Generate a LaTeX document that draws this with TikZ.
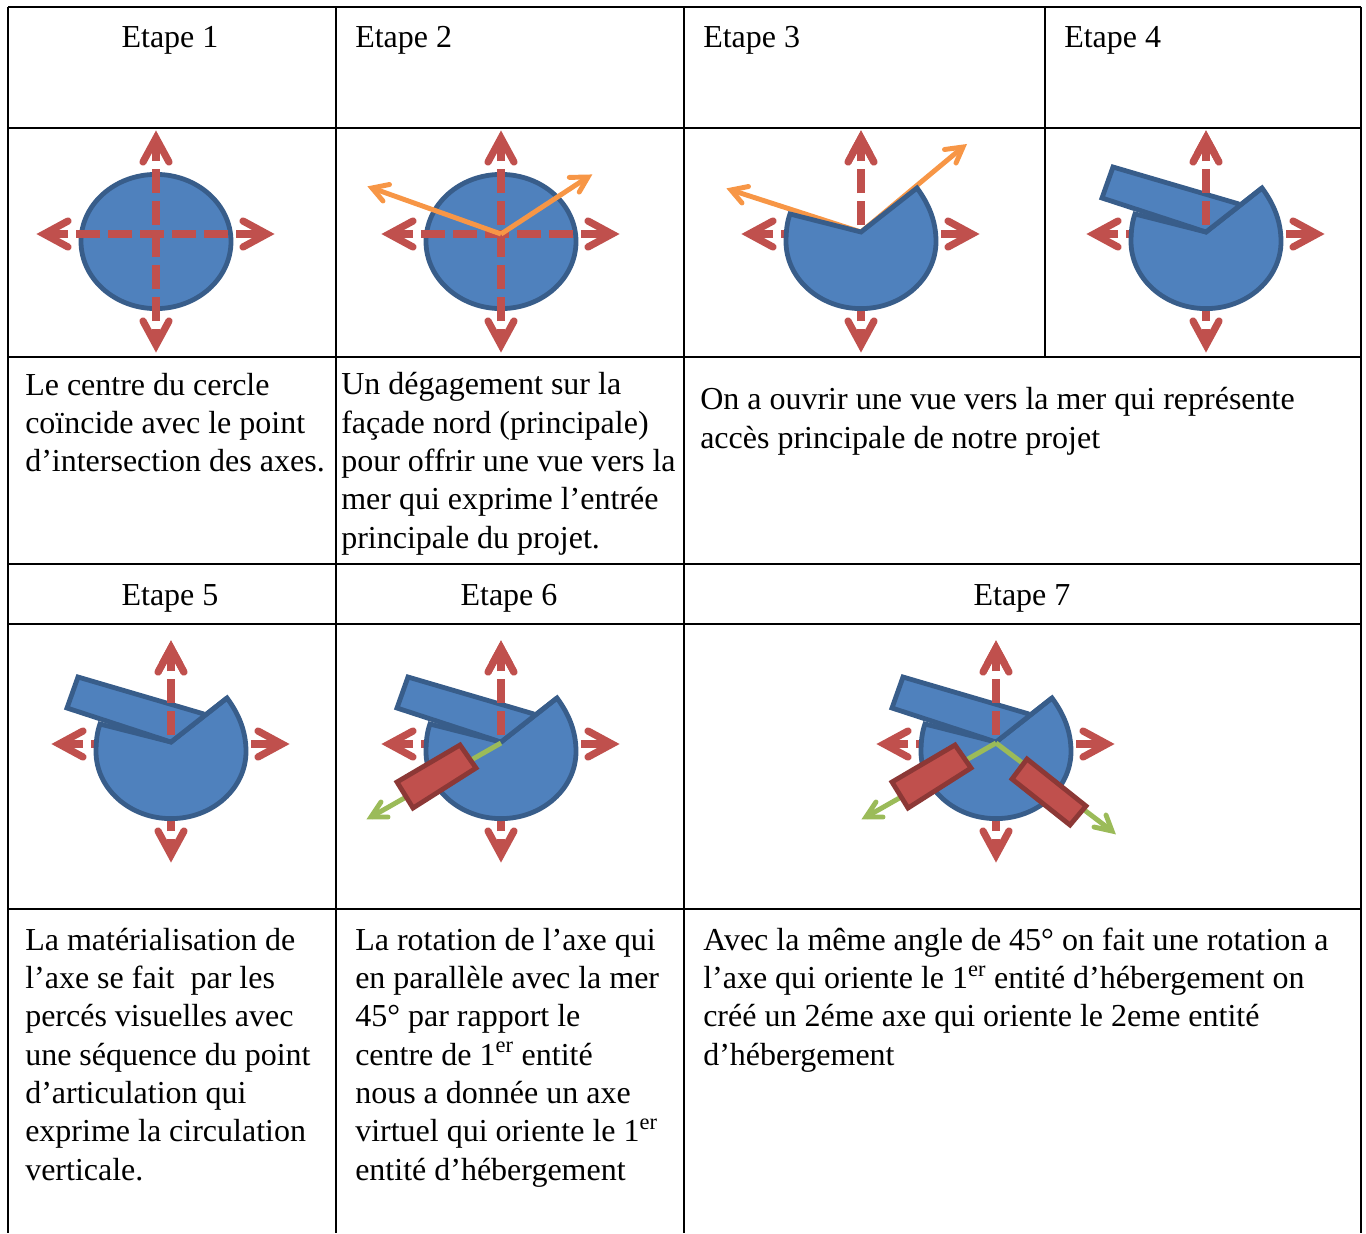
\documentclass[tikz,border=0pt]{standalone}
\usepackage{fontspec}
\setmainfont{Liberation Serif}
\definecolor{axisred}{HTML}{C0504D}
\definecolor{blueF}{HTML}{4F81BD}
\definecolor{blueD}{HTML}{385D8A}
\definecolor{orangeA}{HTML}{F79646}
\definecolor{greenA}{HTML}{9BBB59}
\definecolor{redD}{HTML}{8C3836}
\tikzset{
 gridline/.style={draw=black,line width=1.6pt},
 axisline/.style={draw=axisred,line width=5.4pt,dash pattern=on 18pt off 6pt},
 axishead/.style={draw=axisred,line width=5.4pt,line cap=round,line join=miter,miter limit=10},
 thinhead/.style={line width=3.7pt,line cap=round,line join=miter,miter limit=10},
 thinline/.style={line width=3.7pt},
 shapeblue/.style={fill=blueF,draw=blueD,line width=3.6pt,line join=miter,miter limit=10},
 shapered/.style={fill=axisred,draw=redD,line width=3.6pt,line join=miter},
 capc/.style={anchor=base,inner sep=0pt,font=\fontsize{24}{24}\selectfont},
 capl/.style={anchor=base west,inner sep=0pt,font=\fontsize{24}{24}\selectfont},
 para/.style={anchor=base west,inner sep=0pt,align=left,font=\fontsize{24}{28.75}\selectfont},
}
\newcommand\VertShaft{\draw[axisline,dash phase=6pt] (0,111) -- (0,-96);}
\newcommand\TopHead{\draw[axishead] (-13,-72)--(0,-96)--(13,-72);}
\newcommand\AxesBelow{%
 \draw[axisline] (-112,0) -- (104,0);
 \VertShaft
 \draw[axishead] (-88,-13)--(-112,0)--(-88,13);
 \draw[axishead] (87,-13)--(111,0)--(87,13);
 \TopHead
 \draw[axishead] (-13,87)--(0,111)--(13,87);
}
\newcommand\AxisTop{%
 \begin{scope}
 \clip (-12,-3) rectangle (12,-110);
 \VertShaft
 \TopHead
 \end{scope}
}
\newcommand\Disc{\draw[shapeblue] (-75,7.5) .. controls (-75,44.5) and (-41.4,74.6) .. (0,74.6) .. controls (41.4,74.6) and (75,44.5) .. (75,7.5) .. controls (75,-29.5) and (41.4,-59.6) .. (0,-59.6) .. controls (-41.4,-59.6) and (-75,-29.5) .. (-75,7.5) -- cycle;}
\newcommand\Pacman{\draw[shapeblue] (0,-2) -- (-71,-20) .. controls (-74,-12) and (-75,-2) .. (-75,7.5) .. controls (-75,44.5) and (-41.4,74.6) .. (0,74.6) .. controls (41.4,74.6) and (75,44.5) .. (75,7.5) .. controls (75,-14) and (67,-31) .. (56,-46) -- cycle;}
\newcommand\Slab{%
 \fill[blueF] (-93,-67) -- (-104,-36) -- (0,-2) -- (33,-30) -- cycle;
 \draw[shapeblue,fill=none] (33,-30) -- (-93,-67) -- (-104,-36) -- (0,-2) -- (56,-46);
}
\newcommand\RedLeft{\draw[shapered] (-41,1) -- (-25,24) -- (-88,64) -- (-104,38) -- cycle;}
\newcommand\RedRight{\draw[shapered] (31,15) -- (90,62) -- (74,81) -- (16,35) -- cycle;}
\newcommand\GreenLeft{%
 \draw[greenA,thinline] (0,-1) -- (-130,73);
 \draw[greenA,thinhead] (-120,58)--(-130,73)--(-113,73);
}
\newcommand\GreenRight{%
 \draw[greenA,thinline] (0,-1) -- (116,87);
 \draw[greenA,thinhead] (110,71)--(116,87)--(98,83);
}
\begin{document}
\begin{tikzpicture}[x=0.75pt,y=-0.75pt]
\useasboundingbox (0,0) rectangle (1366,1233);
\draw[gridline] (8,7) -- (1361,7);
\draw[gridline] (8,128) -- (1361,128);
\draw[gridline] (8,357) -- (1361,357);
\draw[gridline] (8,564) -- (1361,564);
\draw[gridline] (8,624) -- (1361,624);
\draw[gridline] (8,909) -- (1361,909);
\draw[gridline] (8,7) -- (8,1233);
\draw[gridline] (336,7) -- (336,1233);
\draw[gridline] (684,7) -- (684,1233);
\draw[gridline] (1045,7) -- (1045,357);
\draw[gridline] (1361,7) -- (1361,1233);
\node[capc] (e1) at (170,47) {Etape 1};
\node[capl] (e2) at (355,47) {Etape 2};
\node[capl] (e3) at (703,47) {Etape 3};
\node[capl] (e4) at (1064,47) {Etape 4};
\node[capc] (e5) at (170,605) {Etape 5};
\node[capc] (e6) at (509,605) {Etape 6};
\node[capc] (e7) at (1022,605) {Etape 7};
\begin{scope}[shift={(156,234)}]
 \Disc
 \AxesBelow
\end{scope}
\begin{scope}[shift={(501,234)}]
 \Disc
 \AxesBelow
 \draw[orangeA,thinline] (0,0) -- (87,-57);
 \draw[orangeA,thinhead] (68.3,-56.6)--(87,-57)--(78.2,-41.9);
 \draw[orangeA,thinline] (0,0) -- (-129,-46);
 \draw[orangeA,thinhead] (-111.5,-49.5)--(-129,-46)--(-118,-33);
\end{scope}
\begin{scope}[shift={(861,234)}]
 \AxesBelow
 \draw[orangeA,thinline] (0,-2) -- (102,-87);
 \draw[orangeA,thinhead] (83.5,-84.5)--(102,-87)--(95,-71);
 \draw[orangeA,thinline] (0,-2) -- (-130,-44);
 \draw[orangeA,thinhead] (-112.5,-47.5)--(-130,-44)--(-119,-31);
 \Pacman
 \AxisTop
\end{scope}
\begin{scope}[shift={(1206,234)}]
 \AxesBelow
 \Pacman
 \Slab
 \AxisTop
\end{scope}
\begin{scope}[shift={(171,744)}]
 \AxesBelow
 \Pacman
 \Slab
 \AxisTop
\end{scope}
\begin{scope}[shift={(501,744)}]
 \AxesBelow
 \Pacman
 \Slab
 \AxisTop
 \GreenLeft
 \RedLeft
\end{scope}
\begin{scope}[shift={(996,744)}]
 \AxesBelow
 \Pacman
 \Slab
 \AxisTop
 \GreenLeft
 \GreenRight
 \RedLeft
 \RedRight
\end{scope}
\node[para] (t1) at (25,471.7) {Le centre du cercle\\coïncide avec le point\\d’intersection des axes.};
\node[para] (t2) at (341,548.3) {Un dégagement sur la\\façade nord (principale)\\pour offrir une vue vers la\\mer qui exprime l’entrée\\principale du projet.};
\node[para] (t3) at (700,448.3) {On a ouvrir une vue vers la mer qui représente\\accès principale de notre projet};
\node[para] (t5) at (25,1180) {La matérialisation de\\l’axe se fait\ \ par les\\percés visuelles avec\\une séquence du point\\d’articulation qui\\exprime la circulation\\verticale.};
\node[para] (t6) at (355,1180) {La rotation de l’axe qui\\en parallèle avec la mer\\45° par rapport le\\centre de 1\textsuperscript{er} entité\\nous a donnée un axe\\virtuel qui oriente le 1\textsuperscript{er}\\entité d’hébergement};
\node[para] (t7) at (703,1065) {Avec la même angle de 45° on fait une rotation a\\l’axe qui oriente le 1\textsuperscript{er} entité d’hébergement on\\créé un 2éme axe qui oriente le 2eme entité\\d’hébergement};
\end{tikzpicture}
\end{document}
